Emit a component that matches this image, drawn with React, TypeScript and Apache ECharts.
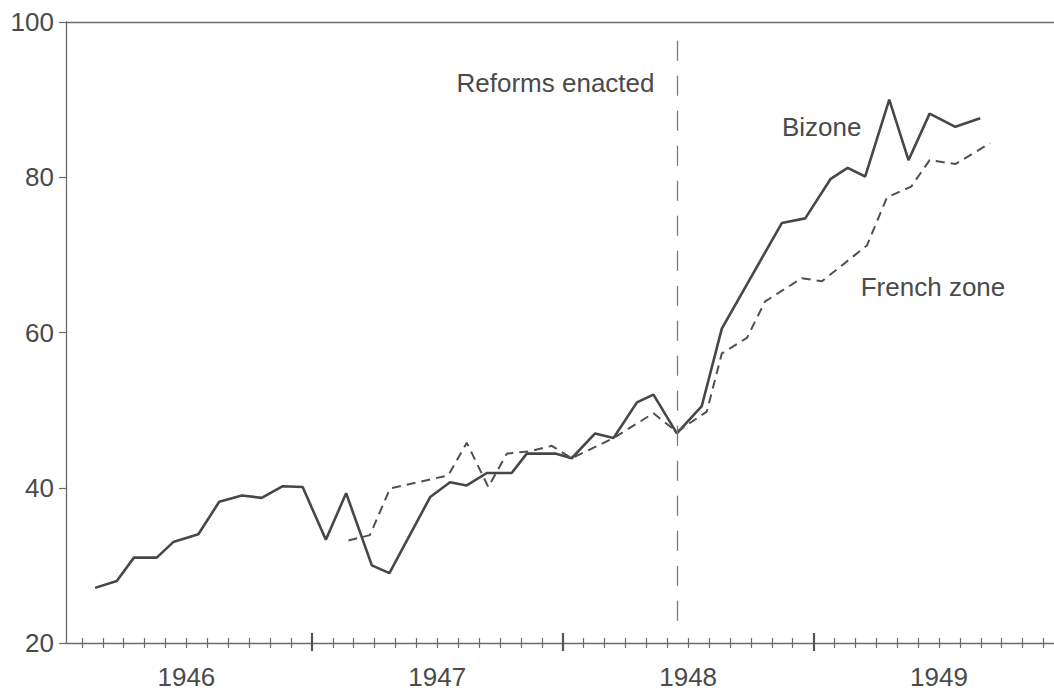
import { useEffect, useRef } from 'react';
import * as echarts from 'echarts';

// Time axis counted in months from 1 January 1946
const yearLabels = ['1946', '1947', '1948', '1949'];
const yearLabelMonths = [6, 18, 30, 42];
const yearStartMonths = [12, 24, 36];
const yTicks = [20, 40, 60, 80, 100];

// Bizone index (solid)
const bizoneMonth = [
  1.63, 2.67, 3.49, 4.58, 5.37, 6.57, 7.57, 8.65, 9.6, 10.61, 11.56, 12.67, 13.64, 14.87, 15.71,
  17.66, 18.61, 19.41, 20.37, 21.56, 22.28, 23.64, 24.43, 25.55, 26.43, 27.55, 28.34, 29.46,
  30.65, 31.61, 34.48, 35.6, 36.82, 37.63, 38.47, 39.62, 40.54, 41.55, 42.78, 43.97,
];
const bizoneValue = [
  27.1, 28.0, 31.0, 31.0, 33.0, 34.0, 38.2, 39.0, 38.7, 40.2, 40.1, 33.3, 39.3, 30.0, 29.0,
  38.8, 40.7, 40.3, 41.9, 41.9, 44.4, 44.4, 43.8, 47.0, 46.4, 51.0, 52.0, 47.0,
  50.5, 60.5, 74.1, 74.7, 79.8, 81.2, 80.1, 90.0, 82.2, 88.2, 86.5, 87.6,
];

// French zone index (dashed)
const frenchMonth = [
  13.75, 14.78, 15.74, 18.53, 19.41, 20.44, 21.33, 22.44, 23.48, 24.43, 26.43, 28.34, 29.46,
  30.89, 31.61, 32.81, 33.68, 35.44, 36.4, 38.55, 39.51, 40.67, 41.55, 42.78, 44.45,
];
const frenchValue = [
  33.2, 33.9, 39.9, 41.6, 45.8, 40.1, 44.4, 44.7, 45.4, 43.8, 46.4, 49.6, 47.2,
  49.8, 57.3, 59.3, 64.0, 67.0, 66.6, 71.2, 77.4, 78.8, 82.2, 81.7, 84.4,
];

const reformMonth = 29.47;
const reformSpan = [97.6, 22.3];

const FONT = "'Liberation Sans', Arial, Helvetica, sans-serif";
const INK = '#4a4a4a';
const AXIS = '#6b6b6b';

const xMin = 0.24;
const xMax = 47.5;

const minorTicks: number[] = [];
for (let m = 1; m <= 47; m++) if (!yearStartMonths.includes(m)) minorTicks.push(m);

export default function App() {
  const ref = useRef<HTMLDivElement>(null);

  useEffect(() => {
    if (!ref.current) return;
    const chart = echarts.init(ref.current, undefined, { renderer: 'svg' });

    const baseX = {
      type: 'value' as const,
      min: xMin,
      max: xMax,
      position: 'bottom' as const,
      splitLine: { show: false },
      axisLine: { show: false, onZero: false },
      axisLabel: { show: false },
    };

    chart.setOption({
      animation: false,
      backgroundColor: '#ffffff',
      grid: { left: 66, right: 0, top: 22, bottom: 48, containLabel: false },
      xAxis: [
        {
          ...baseX,
          axisLine: { show: true, onZero: false, lineStyle: { color: AXIS, width: 1.3 } },
          axisTick: {
            show: true,
            customValues: minorTicks,
            length: 5,
            lineStyle: { color: AXIS, width: 1.2 },
          },
          axisLabel: {
            show: true,
            customValues: yearLabelMonths,
            formatter: (v: number) => yearLabels[yearLabelMonths.indexOf(Math.round(v))] ?? '',
            fontFamily: FONT,
            fontSize: 26,
            color: INK,
            margin: 21,
          },
        },
        {
          ...baseX,
          axisTick: {
            show: true,
            inside: true,
            customValues: minorTicks,
            length: 5,
            lineStyle: { color: AXIS, width: 1.2 },
          },
        },
        {
          ...baseX,
          axisTick: {
            show: true,
            customValues: yearStartMonths,
            length: 8,
            lineStyle: { color: '#555', width: 2.2 },
          },
        },
        {
          ...baseX,
          axisTick: {
            show: true,
            inside: true,
            customValues: yearStartMonths,
            length: 10,
            lineStyle: { color: '#555', width: 2.2 },
          },
        },
        {
          ...baseX,
          position: 'top' as const,
          axisLine: { show: true, onZero: false, lineStyle: { color: AXIS, width: 1.3 } },
          axisTick: { show: false },
        },
      ],
      yAxis: {
        type: 'value',
        min: yTicks[0],
        max: yTicks[yTicks.length - 1],
        interval: 20,
        splitLine: { show: false },
        axisLine: { show: true, onZero: false, lineStyle: { color: AXIS, width: 1.3 } },
        axisTick: { show: true, length: 7, lineStyle: { color: AXIS, width: 1.2 } },
        axisLabel: {
          fontFamily: FONT,
          fontSize: 26,
          color: INK,
          margin: 12,
        },
      },
      series: [
        {
          name: 'Bizone',
          type: 'line',
          xAxisIndex: 0,
          data: bizoneMonth.map((m, i) => [m, bizoneValue[i]]),
          symbol: 'none',
          lineStyle: { color: '#474747', width: 2.6, type: 'solid' },
          silent: true,
          markLine: {
            silent: true,
            symbol: 'none',
            label: { show: false },
            lineStyle: { color: '#7a7a7a', width: 1.3, type: [20, 15] },
            data: [
              [
                { coord: [reformMonth, reformSpan[0]] },
                { coord: [reformMonth, reformSpan[1]] },
              ],
            ],
          },
        },
        {
          name: 'French zone',
          type: 'line',
          xAxisIndex: 0,
          data: frenchMonth.map((m, i) => [m, frenchValue[i]]),
          symbol: 'none',
          lineStyle: { color: '#505050', width: 2, type: [9, 6] },
          silent: true,
        },
      ],
      graphic: [
        {
          type: 'text',
          x: 555.5,
          y: 82.5,
          style: {
            text: 'Reforms enacted',
            fontFamily: FONT,
            fontSize: 26,
            fill: INK,
            align: 'center',
            verticalAlign: 'middle',
          },
        },
        {
          type: 'text',
          x: 821.7,
          y: 127,
          style: {
            text: 'Bizone',
            fontFamily: FONT,
            fontSize: 26,
            fill: INK,
            align: 'center',
            verticalAlign: 'middle',
          },
        },
        {
          type: 'text',
          x: 933,
          y: 287,
          style: {
            text: 'French zone',
            fontFamily: FONT,
            fontSize: 26,
            fill: INK,
            align: 'center',
            verticalAlign: 'middle',
          },
        },
      ],
    });

    return () => chart.dispose();
  }, []);

  return (
    <div
      ref={ref}
      style={{ position: 'fixed', left: 0, top: 0, width: 1054, height: 691, background: '#fff' }}
    />
  );
}
